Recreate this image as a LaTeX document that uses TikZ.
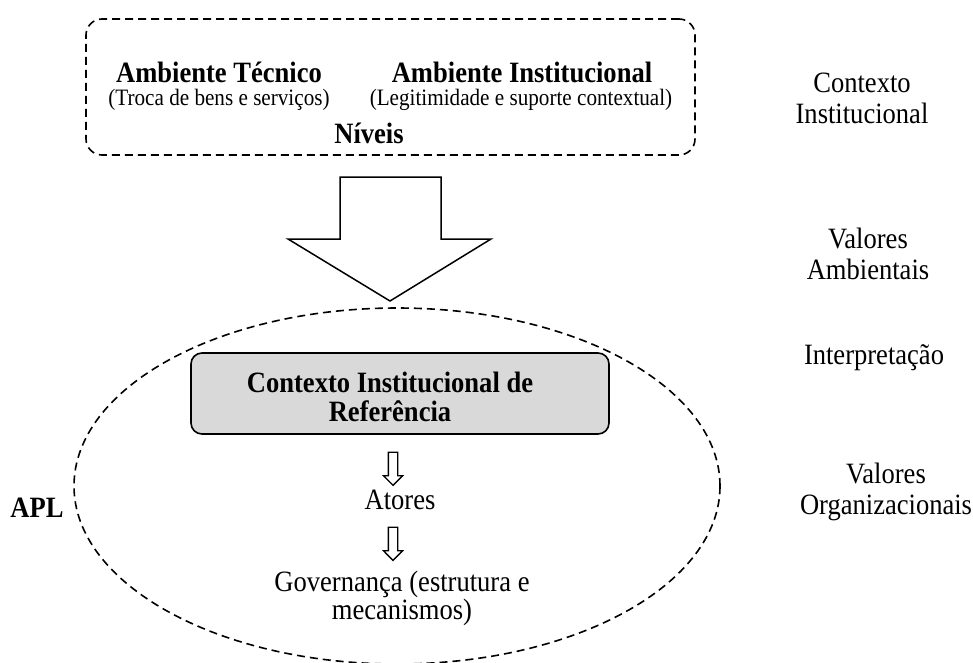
\documentclass[tikz,border=0pt]{standalone}
\usepackage{fontspec}
\setmainfont{Liberation Serif}[FakeStretch=0.9]
\usetikzlibrary{shapes.geometric,shapes.arrows}
\begin{document}
\begin{tikzpicture}[x=1pt,y=-1pt,
  lbl/.style={align=center, inner sep=0pt, font=\fontsize{29.5}{31}\selectfont},
  hd/.style={align=center, inner sep=0pt, font=\fontsize{29.5}{29}\selectfont\bfseries},
  sub/.style={inner sep=0pt, font=\fontsize{23.5}{26}\selectfont},
  dashline/.style={draw=black, line width=1.6pt, dash pattern=on 8pt off 5pt},
  levelbox/.style={dashline, rounded corners=16pt, minimum width=609pt, minimum height=136pt},
  aplring/.style={dashline, ellipse, inner sep=0pt, minimum width=646pt, minimum height=356pt},
  refbox/.style={draw=black, line width=1.6pt, fill={rgb,255:red,217;green,217;blue,217},
    rounded corners=11pt, minimum width=418pt, minimum height=81pt},
  smallarrow/.style={single arrow, draw=black, line width=1.3pt, fill=white,
    shape border rotate=270, inner sep=4pt, single arrow head extend=5pt,
    single arrow head indent=0pt, minimum height=33pt},
  bigarrow/.style={draw=black, line width=1.5pt, fill=white, line join=miter}
]
\useasboundingbox (0,0) rectangle (973,662);

% Levels box at the top
\node[levelbox] (levels) at (390.5,87) {};
\node[hd]  (tech)     at (219,72)  {Ambiente Técnico};
\node[sub] (techsub)  at (219,100) {(Troca de bens e serviços)};
\node[hd]  (inst)     at (522,72)  {Ambiente Institucional};
\node[sub] (instsub)  at (521,100) {(Legitimidade e suporte contextual)};
\node[hd]  (niveis)   at (369,133) {Níveis};

% Block arrow from the levels down into the APL
\coordinate (shaftTL) at (340,177);
\coordinate (shaftTR) at (441,177);
\coordinate (tip) at (390,301);
\draw[bigarrow] (shaftTL) -- (shaftTR) -- (441,239) -- (491,239) -- (tip)
  -- (288,239) -- (340,239) -- cycle;

% APL ellipse and its contents
\node[aplring] (apl) at (397,486) {};
\node[hd] (apllabel) at (37,508) {APL};

\node[refbox] (refbox) at (400,393.5) {};
\node[hd] (reftext) at (390,397) {Contexto Institucional de\\Referência};

\node[smallarrow] (arrowA) at (393,466.5) {};
\node[lbl] (atores) at (400,500) {Atores};
\node[smallarrow] (arrowB) at (393,541.5) {};
\node[lbl, font=\fontsize{29.5}{28}\selectfont] (gov) at (402,598.5) {Governança (estrutura e\\mecanismos)};

% Column of labels on the right
\node[lbl] (ctxinst) at (862,98)  {Contexto\\Institucional};
\node[lbl] (valamb)  at (868,254) {Valores\\Ambientais};
\node[lbl] (interp)  at (874,358) {Interpretação};
\node[lbl] (valorg)  at (886,492) {Valores\\Organizacionais};
\end{tikzpicture}
\end{document}
